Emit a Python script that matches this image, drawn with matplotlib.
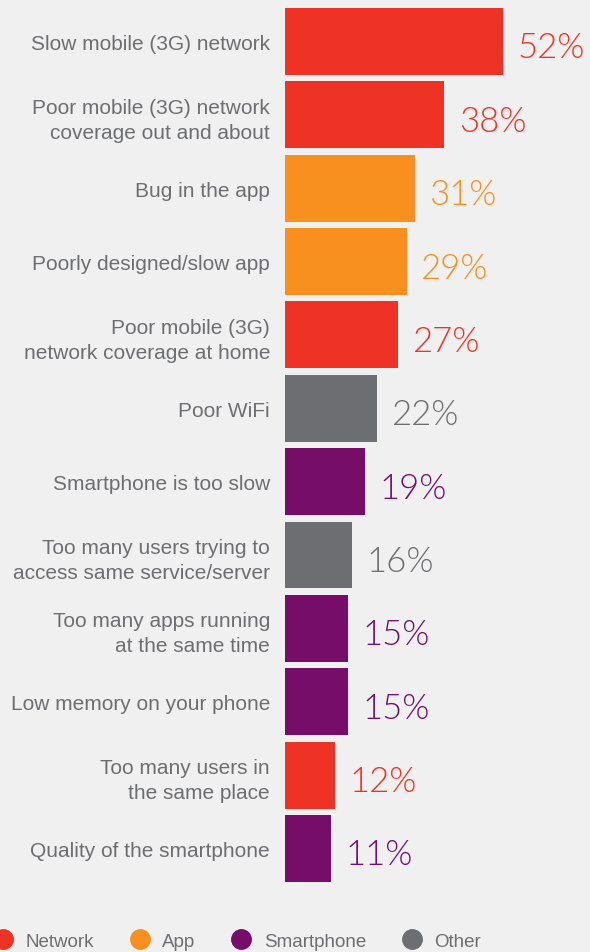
import matplotlib
matplotlib.use('Agg')
import matplotlib.pyplot as plt
from matplotlib.lines import Line2D

# data
labels = [
    'Slow mobile (3G) network',
    'Poor mobile (3G) network\ncoverage out and about',
    'Bug in the app',
    'Poorly designed/slow app',
    'Poor mobile (3G)\nnetwork coverage at home',
    'Poor WiFi',
    'Smartphone is too slow',
    'Too many users trying to\naccess same service/server',
    'Too many apps running\nat the same time',
    'Low memory on your phone',
    'Too many users in\nthe same place',
    'Quality of the smartphone',
]
values = [52, 38, 31, 29, 27, 22, 19, 16, 15, 15, 12, 11]
groups = ['Network', 'Network', 'App', 'App', 'Network', 'Other',
          'Smartphone', 'Other', 'Smartphone', 'Smartphone', 'Network', 'Smartphone']

group_names = ['Network', 'App', 'Smartphone', 'Other']
colors = {'Network': '#ee3226', 'App': '#f7901e',
          'Smartphone': '#760d68', 'Other': '#6d6e71'}

bg = '#f0f0f0'
text_grey = '#6d6e71'

fig = plt.figure(figsize=(5.90, 9.53), dpi=100, facecolor=bg)
ax = fig.add_axes([285 / 590, 0.0702, 305 / 590, 0.9237])
ax.set_facecolor(bg)

pos = list(range(len(values)))
bar_cols = [colors[g] for g in groups]
ax.barh(pos, values, height=0.913, color=bar_cols)

ax.set_ylim(len(values) - 0.5, -0.5)
ax.set_xlim(0, 305 / 4.19)
ax.set_yticks(pos)
ax.set_yticklabels(labels, fontsize=15, color=text_grey,
                   family=['Liberation Sans', 'DejaVu Sans'], linespacing=1.4)
ax.tick_params(axis='y', length=0, pad=10.8)
ax.set_xticks([])
for s in ax.spines.values():
    s.set_visible(False)

for p, v, c in zip(pos, values, bar_cols):
    ax.annotate(f'{v}%', xy=(v, p), xytext=(10.5, -11.5),
                textcoords='offset points', va='baseline', ha='left',
                fontsize=25, color=c, family=['Lato', 'DejaVu Sans'],
                fontweight=300)

handles = [Line2D([], [], marker='o', linestyle='none', markersize=14,
                  markerfacecolor=colors[g], markeredgecolor=colors[g])
           for g in group_names]
leg = fig.legend(handles, group_names, loc='center left',
                 bbox_to_anchor=(-6.7 / 590, 1 - 942 / 953), ncol=4,
                 frameon=False, borderpad=0, borderaxespad=0,
                 handlelength=1.0, handletextpad=0.7, columnspacing=1.95,
                 prop={'family': ['Liberation Sans', 'DejaVu Sans'], 'size': 13.5})
for t in leg.get_texts():
    t.set_color(text_grey)

fig.savefig('out.png', dpi=100, facecolor=bg)
